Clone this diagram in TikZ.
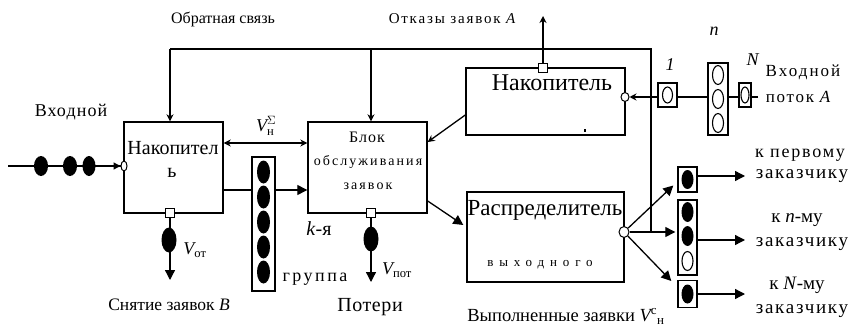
\documentclass[tikz,border=0pt]{standalone}
\usepackage{fontspec}
\usepackage{amsmath}
\setmainfont{Liberation Serif}
\usetikzlibrary{arrows.meta,shapes.geometric}
\newcommand{\lsp}[2]{{\addfontfeature{LetterSpace=#1}#2}}
\newcommand{\fs}[1]{\fontsize{#1}{#1}\selectfont}
\begin{document}
\begin{tikzpicture}[x=1pt,y=-1pt,
  blk/.style={draw,line width=1.4pt,inner sep=0pt},
  sqport/.style={draw,fill=white,line width=1.2pt,minimum size=9pt,inner sep=0pt},
  cport/.style={draw,fill=white,ellipse,line width=1pt,minimum width=6pt,minimum height=10pt,inner sep=0pt},
  job/.style={ellipse,fill=black,minimum width=14pt,minimum height=22pt,inner sep=0pt},
  freejob/.style={ellipse,draw,line width=1.1pt,minimum width=11pt,minimum height=19pt,inner sep=0pt},
  ln/.style={line width=1.3pt},
  sarr/.style={ln,-{Stealth[length=7pt,width=7pt]}},
  farr/.style={ln,-{Triangle[length=10pt,width=10pt]}},
  lbl/.style={inner sep=0pt}]
\useasboundingbox (0,0) rectangle (848,329);

% main blocks
\node[blk,minimum width=99pt,minimum height=91pt] (nak1) at (173.5,167.5) {};
\node[blk,minimum width=119pt,minimum height=91pt] (blok) at (367.5,167.5) {};
\node[blk,minimum width=159pt,minimum height=67pt] (nak2) at (545.5,101.5) {};
\node[blk,minimum width=157pt,minimum height=90pt] (distr) at (545.5,237) {};

% texts in blocks
\node[lbl,font=\fs{20}] (t1) at (173,148) {Накопител};
\node[lbl,font=\fs{20}] (t2) at (172,173) {ь};
\node[lbl,font=\fs{16}] (t3) at (367,137) {\lsp{6}{Блок}};
\node[lbl,font=\fs{14}] (t4) at (368,162) {\lsp{15}{обслуживания}};
\node[lbl,font=\fs{14}] (t5) at (368,186) {\lsp{15}{заявок}};
\node[lbl,font=\fs{24}] (t6) at (552,83) {Накопитель};
\node[lbl,font=\fs{23}] (t7) at (545,210) {Распределитель};
\node[lbl,font=\fs{13}] (t8) at (540,265) {\lsp{45}{выходного}};
\node[fill=black,minimum width=2pt,minimum height=3pt,inner sep=0pt] (mk) at (585,130) {};

% ports
\node[cport] (pin1) at (124,166) {};
\node[sqport] (p1) at (170,213) {};
\node[sqport] (p2) at (371,213) {};
\node[sqport] (p3) at (543,68) {};
\node[cport,minimum width=8pt,minimum height=9pt] (pin2) at (625,97) {};
\node[cport,minimum width=10pt,minimum height=11pt] (dport) at (624,232) {};

% left input flow
\coordinate (in0) at (8,166);
\draw[ln] (in0) -- (pin1);
\draw[-{Triangle[length=7pt,width=7pt]},ln] (104,166) -- (pin1);
\node[job,minimum width=14pt,minimum height=20pt] (j1) at (41,166) {};
\node[job,minimum width=14pt,minimum height=20pt] (j2) at (70,166) {};
\node[job,minimum width=13pt,minimum height=20pt] (j3) at (89,166) {};
\node[lbl,font=\fs{18}] (tin) at (71,112) {\lsp{6}{Входной}};

% feedback
\coordinate (fbL) at (170,49);
\coordinate (fbM) at (371,49);
\coordinate (fbR) at (651,49);
\coordinate (fbB) at (651,232);
\draw[ln] (fbB) -- (fbR) -- (fbL);
\draw[sarr] (fbL) -- (fbL |- nak1.north);
\draw[sarr] (fbM) -- (fbM |- blok.north);
\node[lbl,font=\fs{16}] (tfb) at (223,19) {Обратная связь};

% refusals
\coordinate (rej) at (543,16);
\draw[sarr] (p3) -- (rej);
\node[lbl,font=\fs{15}] (trej) at (453,19) {\lsp{12}{Отказы заявок \textit{A}}};

% double arrow
\coordinate (h143) at (0,143);
\draw[ln,{Stealth[length=7pt,width=7pt]}-{Stealth[length=7pt,width=7pt]}] (nak1.east |- h143) -- (blok.west |- h143);
\node[lbl,font=\fs{18}] (tv) at (266,126) {$\textit{V}^{\Sigma}_{\text{н}}$};

% group column
\node[blk,minimum width=23pt,minimum height=134pt] (grp) at (263.5,224) {};
\foreach \yy/\nm in {172/g1,197/g2,222/g3,247/g4,272/g5}
  \node[job,minimum width=13pt,minimum height=23pt] (\nm) at (263.5,\yy) {};
\coordinate (h190) at (0,190);
\draw[ln] (nak1.east |- h190) -- (grp.west |- h190);
\draw[farr] (grp.east |- h190) -- (blok.west |- h190);
\node[lbl,font=\fs{20}] (tk) at (319,229) {\textit{k}-я};
\node[lbl,font=\fs{18}] (tg) at (315,279) {\lsp{14}{группа}};

% bottom outputs
\coordinate (b1) at (170,280);
\draw[farr] (p1) -- (b1);
\node[job,minimum width=15pt,minimum height=25pt] (e1) at (169,240) {};
\node[lbl,font=\fs{18}] (tvo) at (195,250) {$\textit{V}_{\text{от}}$};
\node[lbl,font=\fs{17.5}] (tsn) at (169,305) {Снятие заявок \textit{B}};
\coordinate (b2) at (371,282);
\draw[farr] (p2) -- (b2);
\node[job,minimum width=15pt,minimum height=25pt] (e2) at (371,239) {};
\node[lbl,font=\fs{18}] (tvp) at (397,270) {$\textit{V}_{\text{пот}}$};
\node[lbl,font=\fs{20}] (tpot) at (370,307) {\lsp{3}{Потери}};

% inner arrows
\coordinate (y115) at (0,115);
\coordinate (y142) at (0,142);
\coordinate (y201) at (0,201);
\coordinate (y225) at (0,225);
\draw[sarr] (nak2.west |- y115) -- (blok.east |- y142);
\draw[farr] (blok.east |- y201) -- ([xshift=-3pt]distr.west |- y225);

% right input queue
\node[blk,minimum width=19pt,minimum height=24pt] (q1) at (667.5,95) {};
\node[freejob,minimum width=10pt,minimum height=16pt] (q1e) at (667.5,95) {};
\node[blk,minimum width=20pt,minimum height=72pt] (qn) at (718,99) {};
\foreach \yy/\nm in {75/qa,99/qb,123/qc}
  \node[freejob] (\nm) at (718,\yy) {};
\node[blk,minimum width=12pt,minimum height=24pt] (qN) at (745,95) {};
\node[freejob,minimum width=8pt,minimum height=16pt] (qNe) at (745,95) {};
\coordinate (qin) at (758,97);
\coordinate (y97) at (0,97);
\draw[ln] (qin) -- (qN.east |- y97);
\draw[ln] (qN.west |- y97) -- (qn.east |- y97);
\draw[ln] (qn.west |- y97) -- (q1.east |- y97);
\draw[sarr] (q1.west |- y97) -- (pin2);
\node[lbl,font=\fs{18}] (t1q) at (670,65) {\textit{1}};
\node[lbl,font=\fs{18}] (tnq) at (714,31) {\textit{n}};
\node[lbl,font=\fs{18}] (tNq) at (753,60) {\textit{N}};
\node[lbl,font=\fs{17}] (tin2) at (803,72) {\lsp{12}{Входной}};
\node[lbl,font=\fs{17}] (tin3) at (799,97) {\lsp{10}{поток \textit{A}}};

% outputs
\node[blk,minimum width=19pt,minimum height=25pt] (o1) at (687.5,179.5) {};
\node[job,minimum width=12pt,minimum height=19pt] (o1e) at (687.5,179.5) {};
\node[blk,minimum width=19pt,minimum height=75pt] (o2) at (687.5,237.5) {};
\node[job,minimum width=12pt,minimum height=20pt] (o2a) at (687.5,212) {};
\node[job,minimum width=12pt,minimum height=20pt] (o2b) at (687.5,236) {};
\node[freejob,minimum width=11pt,minimum height=19pt] (o2c) at (687.5,261) {};
\node[blk,minimum width=19pt,minimum height=27pt] (o3) at (687.5,294) {};
\node[job,minimum width=12pt,minimum height=19pt] (o3e) at (687.5,294) {};
\draw[farr] (dport) -- ([xshift=-4pt,yshift=-6pt]o1.west);
\draw[farr] (dport) -- ([xshift=-2pt]o2.west |- dport);
\draw[farr] (dport) -- ([xshift=-6pt,yshift=13pt]o3.west);
\coordinate (r1) at (745,176);
\coordinate (r2) at (745,240);
\coordinate (r3) at (745,294);
\draw[farr] (o1.east |- r1) -- (r1);
\draw[farr] (o2.east |- r2) -- (r2);
\draw[farr] (o3.east) -- (r3);
\node[lbl,font=\fs{18}] (tr1) at (800,155) {\lsp{10}{к первому}};
\node[lbl,font=\fs{19}] (tr2) at (802,176) {\lsp{9}{заказчику}};
\node[lbl,font=\fs{19}] (tr3) at (797,220) {к \textit{n}-му};
\node[lbl,font=\fs{19}] (tr4) at (802,244) {\lsp{9}{заказчику}};
\node[lbl,font=\fs{19}] (tr5) at (797,285) {к \textit{N}-му};
\node[lbl,font=\fs{19}] (tr6) at (802,311) {\lsp{9}{заказчику}};
\node[lbl,font=\fs{18.5}] (tdone) at (566,316) {Выполненные заявки $\textit{V}^{\text{с}}{}_{\text{н}}$};
\end{tikzpicture}
\end{document}
